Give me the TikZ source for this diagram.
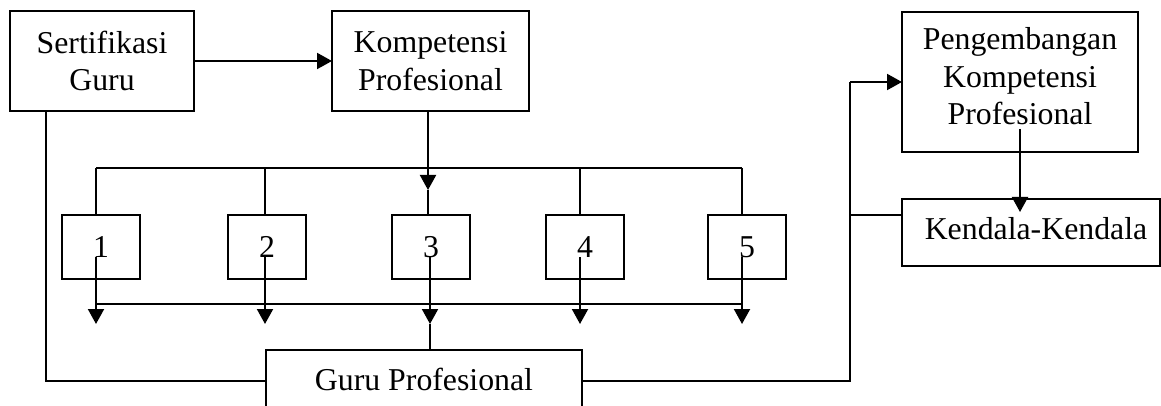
\documentclass[tikz,border=0pt]{standalone}
\usepackage{fontspec}
\setmainfont{Liberation Serif}
\usetikzlibrary{arrows.meta}
\begin{document}
\begin{tikzpicture}[x=1pt,y=-1pt,
  box/.style={draw,line width=2pt,inner sep=0pt,outer sep=0pt,align=center,
    font=\fontsize{31.8}{37.5}\selectfont},
  conn/.style={line width=2pt},
  thin/.style={line width=1.6pt},
  arr/.style={line width=2pt,-{Triangle[width=16pt,length=15pt]}}]
\useasboundingbox (0,0) rectangle (1161,406);
\clip (0,0) rectangle (1161,406);
% boxes
\node[box,minimum width=184pt,minimum height=100pt] (sg) at (102,61) {Sertifikasi\\Guru};
\node[box,minimum width=197pt,minimum height=100pt] (kp) at (430.5,61) {Kompetensi\\Profesional};
\node[box,minimum width=236pt,minimum height=140pt,text depth=12pt] (pk) at (1020,82) {Pengembangan\\Kompetensi\\Profesional};
\node[box,minimum width=258pt,minimum height=67pt,text depth=9pt] (kd) at (1031,232.5) {\hspace*{10pt}Kendala-Kendala};
\node[box,minimum width=78pt,minimum height=64pt] (b1) at (101,247) {1};
\node[box,minimum width=78pt,minimum height=64pt] (b2) at (267,247) {2};
\node[box,minimum width=78pt,minimum height=64pt] (b3) at (431,247) {3};
\node[box,minimum width=78pt,minimum height=64pt] (b4) at (585,247) {4};
\node[box,minimum width=78pt,minimum height=64pt] (b5) at (747,247) {5};
\node[box,minimum width=316pt,minimum height=58pt] (g) at (424,379) {Guru Profesional};
% top distribution bar
\coordinate (t1) at (96,168);
\coordinate (t2) at (265,168);
\coordinate (t3) at (429,168);
\coordinate (t4) at (580,168);
\coordinate (t5) at (742,168);
\draw[conn] (t1) -- (t5);
\draw[conn] (t1) -- (t1 |- b1.north);
\draw[conn] (t2) -- (t2 |- b2.north);
\draw[conn] (t4) -- (t4 |- b4.north);
\draw[conn] (t5) -- (t5 |- b5.north);
% Sertifikasi -> Kompetensi
\draw[arr] (sg.east) -- (kp.west);
% Kompetensi -> box 3
\coordinate (k3) at (428,190);
\draw[arr] (k3 |- kp.south) -- (k3);
\draw[conn] (k3) -- (k3 |- b3.north);
% arrows out of number boxes
\coordinate (s1) at (96,257);
\coordinate (s2) at (265,257);
\coordinate (s3) at (430,257);
\coordinate (s4) at (580,257);
\coordinate (s5) at (742,257);
\coordinate (e1) at (96,324);
\coordinate (e2) at (265,324);
\coordinate (e3) at (430,324);
\coordinate (e4) at (580,324);
\coordinate (e5) at (742,324);
\draw[arr] (s1) -- (e1);
\draw[arr] (s2) -- (e2);
\draw[arr] (s3) -- (e3);
\draw[arr] (s4) -- (e4);
\draw[arr] (s5) -- (e5);
\coordinate (bb1) at (96,304);
\coordinate (bb5) at (742,304);
\draw[conn] (bb1) -- (bb5);
\draw[conn] (e3) -- (e3 |- g.north);
% Sertifikasi -> Guru Profesional
\coordinate (sl) at (46,381);
\draw[thin] (sl |- sg.south) -- (sl) -- (sl -| g.west);
% Guru Profesional -> Pengembangan
\coordinate (gr) at (850,381);
\draw[thin] (gr -| g.east) -- (gr) -- (gr |- pk.west);
\draw[arr] (gr |- pk.west) -- (pk.west);
% branch to Kendala
\coordinate (kb) at (850,215);
\draw[thin] (kb) -- (kb -| kd.west);
% Pengembangan -> Kendala
\coordinate (pa) at (1020,129);
\coordinate (pb) at (1020,212);
\draw[arr] (pa) -- (pb);
\end{tikzpicture}
\end{document}
